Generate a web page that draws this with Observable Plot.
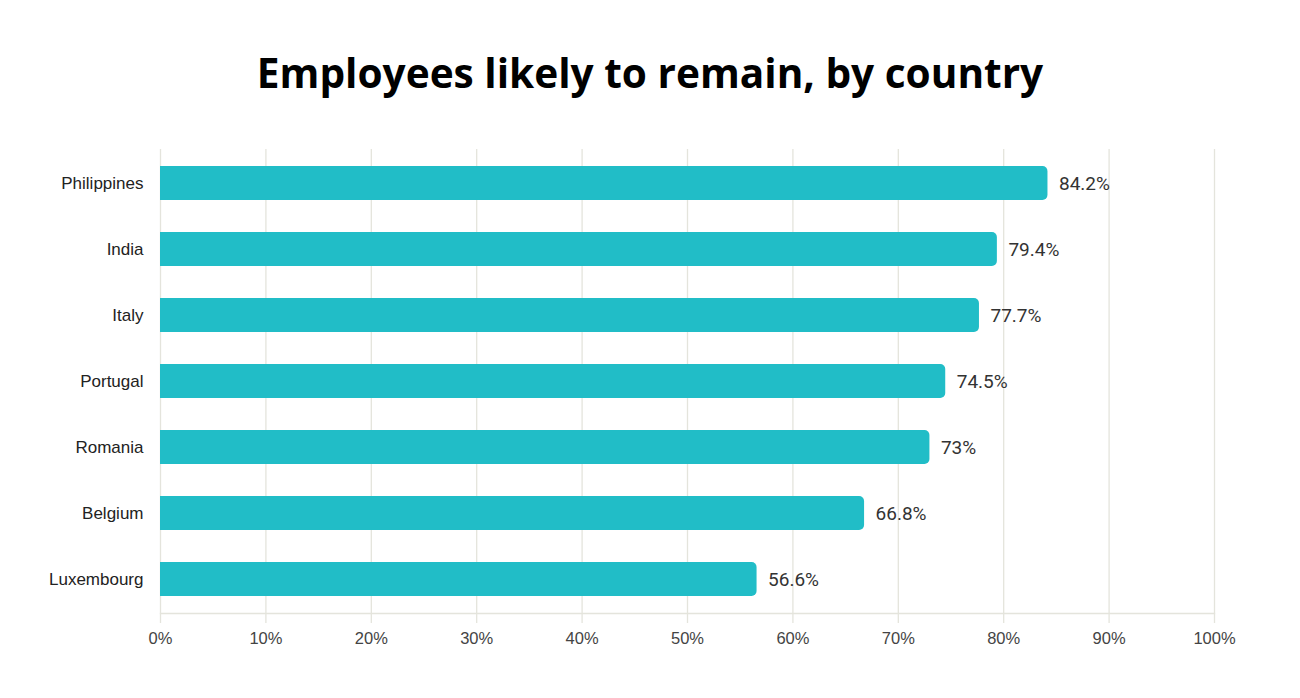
<!DOCTYPE html>
<html>
<head>
<meta charset="utf-8">
<script src="https://cdn.jsdelivr.net/npm/d3@7"></script>
<script src="https://cdn.jsdelivr.net/npm/@observablehq/plot@0.6"></script>
<style>
  html, body { margin: 0; padding: 0; background: #fff; }
  #title { height: 120px; box-sizing: border-box; padding-top: 48px; text-align: center;
           font-family: "Open Sans", sans-serif; font-weight: 700; font-size: 40.6px; line-height: 50px; color: #000; }
  #chart svg { display: block; }
</style>
</head>
<body>
<div id="title">Employees likely to remain, by country</div>
<div id="chart"></div>
<script>
const countries = ["Philippines", "India", "Italy", "Portugal", "Romania", "Belgium", "Luxembourg"];
const values = [84.2, 79.4, 77.7, 74.5, 73, 66.8, 56.6];
const xTicks = [0, 10, 20, 30, 40, 50, 60, 70, 80, 90, 100];

const data = countries.map((c, i) => ({country: c, value: values[i]}));
const barColor = "#21bdc7";
const gridColor = "#e4e4dc";

const chart = Plot.plot({
  width: 1300,
  height: 578,
  marginTop: 29,
  marginBottom: 85,
  marginLeft: 160,
  marginRight: 86,
  style: {fontFamily: "'Liberation Sans', Arial, sans-serif", fontSize: "16px", color: "#222", background: "#fff"},
  x: {domain: [0, 100], ticks: xTicks, tickFormat: d => d + "%", label: null},
  y: {domain: countries, paddingInner: 0.49, paddingOuter: 0.245, round: true, label: null},
  marks: [
    Plot.gridX(xTicks, {stroke: gridColor, strokeOpacity: 1, strokeWidth: 1.3}),
    Plot.frame({anchor: "bottom", stroke: gridColor, strokeWidth: 1.3}),
    Plot.axisX({ticks: xTicks, tickSize: 10, tickPadding: 9, stroke: gridColor, strokeWidth: 1.3,
                tickFormat: d => d + "%", fill: "#444", fontSize: 16.5}),
    Plot.axisY({tickSize: 0, tickPadding: 17, fill: "#222", fontSize: 17}),
    Plot.barX(data, {x1: 0, x2: "value", y: "country", fill: barColor, rx: 5}),
    Plot.barX(data, {x1: 0, x2: d => d.value / 2, y: "country", fill: barColor, shapeRendering: "crispEdges"}),
    Plot.text(data, {x: "value", y: "country", text: d => d.value + "%", textAnchor: "start", dx: 11,
                     fill: "#333", fontSize: 19, fontFamily: "Roboto, sans-serif"})
  ]
});
document.getElementById("chart").appendChild(chart);
</script>
</body>
</html>
